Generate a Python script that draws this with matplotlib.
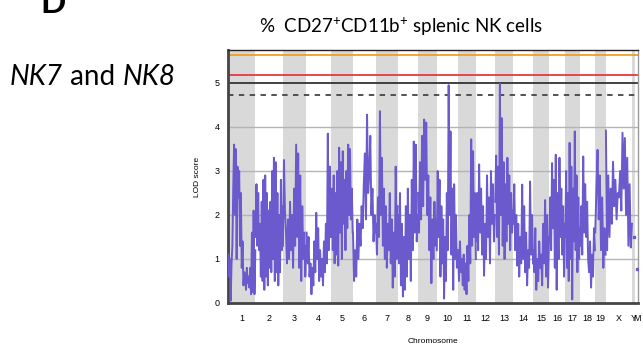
import numpy as np
import matplotlib
matplotlib.use("Agg")
import matplotlib.pyplot as plt

plt.rcParams['mathtext.fontset'] = 'custom'
plt.rcParams['mathtext.rm'] = 'Lato'
plt.rcParams['mathtext.it'] = 'Lato:italic'
plt.rcParams['font.family'] = ['Liberation Sans', 'DejaVu Sans']

# chromosome names and (approx.) lengths in Mb
chrom_names = ['1', '2', '3', '4', '5', '6', '7', '8', '9', '10', '11', '12',
               '13', '14', '15', '16', '17', '18', '19', 'X', 'Y', 'M']
chrom_len = [196, 195, 169, 174, 157, 164, 157, 143, 134, 152, 129, 136,
             129, 143, 114, 114, 107, 107, 76, 188, 21, 21]

# LOD trace, per chromosome (left to right)
lod_1 = [1.1, 0.6, 1.0, 0.05, 0.9, 1.3, 2.6, 3.6, 2.0, 3.5, 1.0, 3.1, 2.4, 3.0, 1.3, 2.5,
         0.8, 1.4, 0.4, 0.7, 0.6, 0.3, 0.8, 0.45, 0.6, 0.35, 0.8, 0.2, 1.6, 0.25, 2.1, 0.2, 1.2]
lod_2 = [1.5, 2.7, 1.3, 2.5, 1.2, 1.8, 0.6, 2.3, 0.5, 2.8, 0.3, 2.9, 0.6, 2.5, 0.4, 2.1,
         0.8, 2.3, 0.7, 3.0, 1.0, 3.3, 0.5, 3.2, 0.7, 2.5, 0.4, 2.0, 0.7, 2.8, 1.2, 2.2]
lod_3 = [1.3, 3.25, 2.1, 1.6, 0.9, 1.9, 1.0, 2.3, 1.2, 2.0, 0.8, 2.6, 1.3, 3.6, 1.5, 3.4,
         0.8, 2.9, 0.5, 2.2, 1.0, 1.6, 0.6, 1.3]
lod_4 = [1.6, 0.9, 1.5, 0.6, 0.9, 0.2, 0.8, 0.4, 1.4, 0.7, 2.05, 1.0, 1.7, 0.5, 1.2, 0.6,
         1.0, 0.4, 1.4, 0.7, 1.8, 0.9, 3.85, 1.2, 3.1, 1.5]
lod_5 = [1.5, 2.6, 1.2, 2.9, 0.9, 2.5, 1.1, 3.0, 0.85, 3.53, 1.6, 3.2, 1.0, 3.45, 1.8, 2.8,
         1.2, 3.0, 1.7, 3.6, 2.0, 3.5, 1.9, 2.6, 1.6]
lod_6 = [1.6, 0.5, 1.2, 0.6, 1.9, 1.0, 1.8, 1.3, 2.2, 1.7, 2.7, 3.4, 1.9, 4.28, 2.5, 2.9,
         3.8, 2.0, 2.6, 1.4, 2.0, 1.6]
lod_7 = [1.8, 1.1, 2.4, 1.5, 4.36, 2.0, 3.3, 1.3, 2.6, 1.0, 2.2, 0.8, 1.8, 1.2, 2.5, 0.9,
         1.9, 0.35, 1.6, 0.6, 3.1, 1.0, 2.2]
lod_8 = [2.0, 0.9, 2.5, 0.4, 1.8, 0.15, 1.5, 0.3, 2.2, 0.6, 2.6, 1.0, 2.0, 0.5, 2.8, 1.2,
         3.67, 1.6, 3.6, 1.4, 2.0]
lod_9 = [2.5, 1.6, 3.2, 1.9, 3.8, 2.2, 4.17, 2.8, 4.1, 2.0, 2.9, 1.2, 2.4, 0.45, 1.9, 1.0,
         2.3, 1.3, 1.9]
lod_10 = [1.2, 3.0, 1.5, 2.8, 0.6, 2.2, 0.9, 1.9, 0.1, 1.5, 0.5, 2.5, 1.2, 4.95, 2.0, 3.9,
          1.1, 2.6, 0.3, 2.7, 1.0, 2.0, 0.8, 1.2]
lod_11 = [1.2, 0.5, 1.4, 0.7, 1.0, 0.4, 1.1, 0.3, 0.9, 0.2, 1.3, 0.5, 2.0, 0.9, 3.72, 1.3,
          3.45, 1.5, 2.5, 1.0]
lod_12 = [1.4, 2.5, 1.2, 3.15, 1.6, 2.6, 1.1, 2.2, 0.62, 1.8, 1.0, 2.9, 1.5, 2.4, 0.9, 3.0,
          1.8, 2.7, 1.4, 2.0]
lod_13 = [2.3, 3.35, 1.5, 3.1, 1.1, 4.98, 2.0, 4.2, 1.3, 3.2, 1.0, 2.7, 1.4, 3.3, 1.8, 2.9,
          1.2, 2.5, 1.6, 2.1]
lod_14 = [1.8, 2.7, 1.2, 2.0, 0.85, 1.8, 0.6, 1.5, 0.9, 2.69, 1.0, 2.2, 0.7, 1.6, 0.4, 1.2,
          0.8, 2.76, 1.1, 2.0, 0.9]
lod_15 = [1.2, 0.7, 1.7, 0.3, 1.0, 0.5, 1.4, 0.8, 1.1, 0.4, 1.8, 0.9, 2.34, 0.6, 2.0, 0.35, 1.5]
lod_16 = [1.4, 2.4, 1.2, 3.18, 1.7, 2.8, 0.8, 3.37, 0.3, 2.5, 1.0, 3.3, 1.5, 2.6, 1.1, 2.2,
          0.6, 1.8]
lod_17 = [1.5, 3.0, 0.8, 2.5, 0.5, 3.64, 1.0, 3.1, 0.08, 2.6, 1.4, 3.9, 1.2, 2.9, 0.7, 2.4,
          1.0, 1.7]
lod_18 = [1.3, 2.2, 1.1, 3.33, 1.6, 2.7, 1.5, 2.3, 1.0, 0.7, 1.4, 0.35, 1.1, 0.6, 1.7, 1.2]
lod_19 = [1.6, 2.6, 3.48, 1.9, 2.9, 1.2, 2.4, 0.8, 1.7, 1.1]
lod_X = [3.92, 1.2, 2.9, 1.5, 2.6, 1.8, 3.21, 2.2, 2.8, 1.9, 2.5, 2.4, 3.0, 2.1, 3.87, 2.6,
         3.75, 2.0, 3.3, 1.3, 2.7, 1.26, 1.8]
lod_Y = [1.49]
lod_M = [0.78]

lod_all = [lod_1, lod_2, lod_3, lod_4, lod_5, lod_6, lod_7, lod_8, lod_9, lod_10,
           lod_11, lod_12, lod_13, lod_14, lod_15, lod_16, lod_17, lod_18, lod_19,
           lod_X, lod_Y, lod_M]

# significance thresholds
thr_levels = [5.63, 5.19, 5.0, 4.73]
thr_colors = ['#f0a01e', '#e8383d', '#333333', '#444444']
thr_styles = ['-', '-', '-', (0, (3, 3))]

trace_color = '#6a5acd'

fig = plt.figure(figsize=(6.43, 3.49), dpi=100)
ax = fig.add_axes([228 / 643, 1 - 303 / 349, 410 / 643, 253 / 349])

starts = np.concatenate([[0], np.cumsum(chrom_len)[:-1]])
ends = np.cumsum(chrom_len)
total = ends[-1]

for i, (s, e) in enumerate(zip(starts, ends)):
    if i % 2 == 0:
        ax.axvspan(s, e, color='#d9d9d9', lw=0, zorder=0)

for y in [1, 2, 3, 4]:
    ax.axhline(y, color='#b4b4b4', lw=1, zorder=1)

for lvl, c, ls in zip(thr_levels, thr_colors, thr_styles):
    ax.axhline(lvl, color=c, lw=1.3, ls=ls, zorder=2)

for s, e, vals in zip(starts, ends, lod_all):
    if len(vals) > 1:
        xs = np.linspace(s + 1, e - 1, len(vals))
        ax.plot(xs, vals, color=trace_color, lw=1.4, zorder=3)
    else:
        ax.plot([(s + e) / 2], vals, 's', color=trace_color, ms=1.5, zorder=3)

ax.set_xlim(0, total)
ax.set_ylim(0, 5.75)
ax.set_yticks([0, 1, 2, 3, 4, 5])
ax.set_xticks((starts + ends) / 2)
ax.set_xticklabels(chrom_names)
ax.tick_params(length=0, labelsize=6.5)
ax.tick_params(axis='x', pad=8)
ax.tick_params(axis='y', pad=6)

for side in ['left', 'bottom']:
    ax.spines[side].set_color('#444444')
    ax.spines[side].set_linewidth(2)
ax.spines['top'].set_color('#222222')
ax.spines['top'].set_linewidth(1)
ax.spines['right'].set_color('#999999')
ax.spines['right'].set_linewidth(1)

ax.set_ylabel('LOD score', fontsize=6, labelpad=10)
ax.set_xlabel('Chromosome', fontsize=6, labelpad=11)

fig.text(401 / 643, 1 - 33 / 349, r'%  CD27$^{+}$CD11b$^{+}$ splenic NK cells',
         fontsize=13.5, family='Lato', ha='center', va='baseline')
fig.text(40 / 643, 1 - 13 / 349, 'D', fontsize=24, weight='bold', family='Lato',
         ha='left', va='baseline')

# "NK7 and NK8" with italic gene names, placed piece by piece
renderer = fig.canvas.get_renderer()
x_px = 10
for piece, style in [('NK7', 'italic'), (' and ', 'normal'), ('NK8', 'italic')]:
    t = fig.text(x_px / 643, 1 - 85 / 349, piece, fontsize=20, family='Lato',
                 style=style, ha='left', va='baseline')
    x_px = t.get_window_extent(renderer).x1

fig.savefig('out.png', dpi=100)
